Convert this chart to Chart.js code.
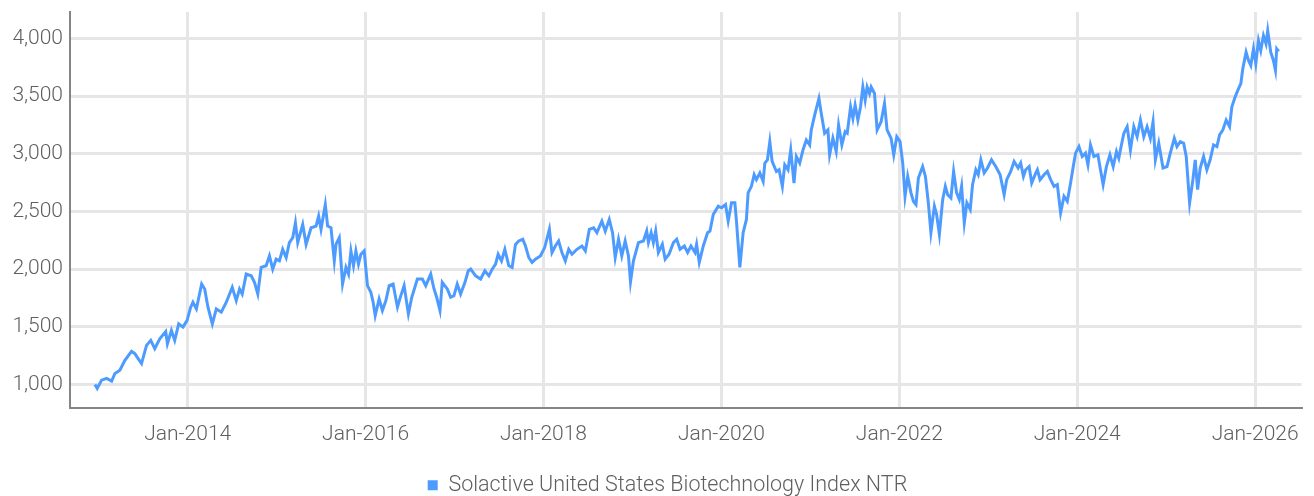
<!DOCTYPE html>
<html>
<head>
<meta charset="utf-8">
<script src="https://cdn.jsdelivr.net/npm/chart.js@4/dist/chart.umd.min.js"></script>
<style>
html,body{margin:0;padding:0;background:#fff;}
#wrap{width:1314px;height:496px;}
</style>
</head>
<body>
<div id="wrap"><canvas id="c" width="1314" height="496"></canvas></div>
<script>
// Dates as decimal years
const seriesName = "Solactive United States Biotechnology Index NTR";
const dates = [
2012.957,2012.983,2013.032,2013.089,2013.145,2013.182,2013.238,2013.294,2013.369,2013.406,2013.443,2013.481,2013.537,2013.585,2013.630,2013.686,2013.753,2013.772,2013.817,2013.854,2013.899,2013.947,2013.992,
2014.034,2014.059,2014.098,2014.157,2014.191,2014.228,2014.277,2014.322,2014.378,2014.434,2014.501,2014.546,2014.583,2014.613,2014.658,2014.714,2014.751,2014.788,2014.826,2014.882,2014.919,2014.956,2014.994,
2015.031,2015.068,2015.107,2015.143,2015.181,2015.211,2015.237,2015.293,2015.331,2015.387,2015.443,2015.472,2015.499,2015.547,2015.573,2015.611,2015.648,2015.667,2015.704,2015.741,2015.779,2015.808,2015.835,2015.864,2015.891,2015.920,2015.947,2015.984,
2016.021,2016.059,2016.085,2016.108,2016.152,2016.189,2016.228,2016.265,2016.309,2016.358,2016.396,2016.433,2016.481,2016.519,2016.582,2016.638,2016.676,2016.732,2016.769,2016.799,2016.836,2016.862,2016.918,2016.956,2016.993,
2017.030,2017.068,2017.117,2017.154,2017.181,2017.237,2017.293,2017.341,2017.386,2017.423,2017.461,2017.490,2017.528,2017.565,2017.610,2017.647,2017.685,2017.722,2017.767,2017.797,2017.834,2017.871,2017.909,2017.965,
2018.013,2018.066,2018.095,2018.133,2018.170,2018.207,2018.245,2018.283,2018.320,2018.376,2018.432,2018.470,2018.515,2018.563,2018.600,2018.656,2018.694,2018.739,2018.776,2018.806,2018.843,2018.880,2018.918,2018.955,2018.978,
2019.011,2019.067,2019.123,2019.160,2019.179,2019.210,2019.235,2019.261,2019.291,2019.336,2019.367,2019.411,2019.460,2019.497,2019.535,2019.583,2019.620,2019.658,2019.703,2019.721,2019.751,2019.796,2019.844,2019.871,2019.908,2019.964,
2020.001,2020.046,2020.076,2020.113,2020.151,2020.169,2020.207,2020.244,2020.281,2020.300,2020.337,2020.368,2020.393,2020.432,2020.469,2020.488,2020.517,2020.544,2020.570,2020.618,2020.648,2020.685,2020.712,2020.749,2020.779,2020.816,2020.842,2020.880,2020.917,2020.954,2020.992,
2021.010,2021.048,2021.096,2021.122,2021.160,2021.197,2021.216,2021.253,2021.290,2021.317,2021.354,2021.391,2021.414,2021.452,2021.478,2021.503,2021.534,2021.564,2021.590,2021.616,2021.638,2021.665,2021.683,2021.721,2021.750,2021.795,2021.833,2021.862,2021.907,2021.937,2021.971,
2022.008,2022.038,2022.064,2022.094,2022.131,2022.158,2022.187,2022.214,2022.262,2022.293,2022.326,2022.355,2022.394,2022.419,2022.450,2022.487,2022.517,2022.543,2022.580,2022.610,2022.644,2022.674,2022.700,2022.730,2022.759,2022.797,2022.823,2022.860,2022.887,2022.916,2022.954,2022.991,
2023.036,2023.084,2023.133,2023.178,2023.207,2023.252,2023.290,2023.335,2023.364,2023.395,2023.420,2023.459,2023.488,2023.526,2023.552,2023.582,2023.627,2023.664,2023.701,2023.739,2023.776,2023.813,2023.851,2023.888,2023.925,2023.955,2023.981,
2024.019,2024.056,2024.093,2024.120,2024.149,2024.187,2024.232,2024.261,2024.291,2024.328,2024.367,2024.404,2024.441,2024.467,2024.493,2024.524,2024.561,2024.598,2024.636,2024.673,2024.710,2024.748,2024.785,2024.822,2024.852,2024.878,2024.916,2024.964,
2025.009,2025.046,2025.091,2025.121,2025.158,2025.196,2025.225,2025.263,2025.300,2025.326,2025.353,2025.382,2025.420,2025.457,2025.494,2025.532,2025.570,2025.600,2025.637,2025.674,2025.712,2025.738,2025.775,2025.813,2025.839,2025.861,2025.898,2025.925,2025.951,2025.981,
2026.007,2026.037,2026.063,2026.093,2026.122,2026.141,2026.175,2026.205,2026.228,2026.242,2026.265
];
const values = [
1000,965,1037,1052,1029,1095,1123,1210,1287,1267,1224,1181,1339,1382,1310,1396,1459,1353,1468,1382,1526,1497,1554,
1670,1713,1655,1871,1828,1670,1526,1655,1627,1713,1843,1727,1828,1784,1957,1942,1885,1784,2015,2029,2115,2000,2086,
2072,2172,2101,2230,2273,2402,2230,2388,2215,2359,2373,2460,2345,2560,2373,2359,2072,2215,2273,1871,2015,1957,2158,2029,2158,2043,2129,2158,
1857,1799,1713,1597,1741,1641,1727,1857,1871,1670,1770,1857,1612,1756,1914,1914,1857,1957,1828,1756,1641,1885,1828,1756,1770,
1871,1784,1885,1986,2000,1942,1914,1986,1942,2000,2043,2129,2072,2172,2029,2015,2215,2244,2259,2201,2101,2058,2086,2115,
2187,2345,2144,2201,2244,2144,2072,2172,2129,2172,2201,2158,2345,2359,2316,2416,2330,2431,2316,2101,2259,2115,2244,2115,1891,
2072,2230,2244,2330,2230,2316,2230,2330,2144,2215,2086,2129,2230,2259,2172,2201,2144,2201,2144,2215,2058,2201,2316,2330,2474,2546,
2532,2560,2416,2575,2575,2416,2015,2316,2431,2661,2718,2819,2776,2834,2761,2920,2948,3106,2934,2847,2862,2718,2905,2862,3034,2747,2977,2920,3034,3120,3077,
3207,3336,3480,3351,3178,3207,2991,3135,3020,3250,3077,3192,3178,3408,3307,3422,3293,3408,3580,3465,3580,3523,3580,3523,3207,3278,3437,3207,3135,2991,3149,
3106,2920,2632,2804,2661,2589,2560,2790,2890,2804,2575,2316,2546,2474,2302,2603,2718,2646,2618,2847,2661,2603,2718,2402,2575,2517,2733,2862,2819,2948,2834,2877,
2948,2890,2819,2646,2776,2847,2934,2877,2920,2804,2862,2890,2747,2819,2862,2776,2819,2847,2776,2718,2733,2489,2632,2589,2747,2890,3006,
3063,2977,3006,2905,3077,2977,2991,2862,2733,2890,2991,2890,3020,2962,3063,3178,3235,3034,3235,3149,3293,3149,3235,3135,3278,2948,3092,2877,
2890,3006,3135,3063,3106,3092,2977,2575,2776,2948,2690,2877,2977,2862,2948,3077,3063,3164,3207,3293,3235,3408,3494,3566,3609,3739,3882,3810,3767,3911,
3782,3983,3896,4026,3954,4069,3882,3810,3724,3911,3888
];
const yTicks = [1000,1500,2000,2500,3000,3500,4000];
const xTicks = [2014,2016,2018,2020,2022,2024,2026];
const xTickLabels = ["Jan-2014","Jan-2016","Jan-2018","Jan-2020","Jan-2022","Jan-2024","Jan-2026"];

const points = dates.map((d,i)=>({x:d,y:values[i]}));
const BLUE = '#4d9bff';
const TXT = '#5f5f5f';
const FONT = {family:'Roboto', size:21, weight:'300'};

const legendShift = {
  id:'legendShift',
  afterLayout(chart){
    if (chart.legend) { chart.legend.left += 15; chart.legend.right += 15; }
  }
};

new Chart(document.getElementById('c'), {
  type:'line',
  data:{datasets:[{
    label:seriesName,
    data:points,
    borderColor:BLUE,
    backgroundColor:BLUE,
    borderWidth:3,
    pointRadius:0,
    tension:0,
    fill:false
  }]},
  plugins:[legendShift],
  options:{
    responsive:false,
    animation:false,
    events:[],
    layout:{padding:{left:0,right:9,top:12,bottom:-10}},
    plugins:{
      tooltip:{enabled:false},
      legend:{
        position:'bottom',
        labels:{
          boxWidth:10, boxHeight:10, padding:1,
          color:TXT, font:{family:'Roboto', size:21.5, weight:'300', lineHeight:1},
          generateLabels(chart){
            return chart.data.datasets.map((ds,i)=>({text:ds.label,fillStyle:BLUE,strokeStyle:BLUE,lineWidth:0,datasetIndex:i,fontColor:TXT}));
          }
        }
      }
    },
    scales:{
      x:{
        type:'linear',
        min:2012.677, max:2026.522,
        afterBuildTicks(s){ s.ticks = xTicks.map(v=>({value:v})); },
        afterFit(s){ s.height = 66; },
        ticks:{
          color:TXT, font:FONT, padding:15, maxRotation:0, autoSkip:false,
          callback(v){ const i = xTicks.indexOf(v); return i>=0 ? xTickLabels[i] : ''; }
        },
        grid:{color:'#e6e6e6', lineWidth:3, drawTicks:false},
        border:{color:'#858585', width:2}
      },
      y:{
        min:800, max:4230,
        afterBuildTicks(s){ s.ticks = yTicks.map(v=>({value:v})); },
        afterFit(s){ s.width = 70; },
        ticks:{
          color:TXT, font:{family:'Roboto', size:21, weight:'300', lineHeight:0.4}, padding:7,
          callback(v){ return v.toLocaleString('en-US'); }
        },
        grid:{color:'#e6e6e6', lineWidth:3, drawTicks:false},
        border:{color:'#858585', width:2}
      }
    }
  }
});
</script>
</body>
</html>
